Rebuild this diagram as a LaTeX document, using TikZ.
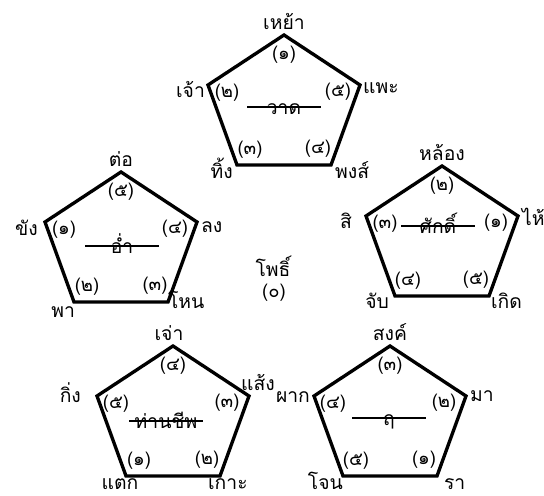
\documentclass[tikz,border=0pt]{standalone}
\usepackage{fontspec}
\newfontfamily\thaifont[Script=Thai]{Loma}
\usetikzlibrary{calc}
\tikzset{
  pentline/.style={line width=1.9pt,line join=miter},
  cornerword/.style={font=\thaifont\fontsize{11}{13}\selectfont,inner sep=1pt},
  cornernum/.style={font=\thaifont\fontsize{10.5}{12}\selectfont,inner sep=0pt},
  midword/.style={font=\thaifont\fontsize{11}{13}\selectfont,inner sep=0pt,minimum width=1.46cm},
  strikeline/.style={line width=0.7pt}
}
% pentagon: name, centre, numbers at top, upper left, lower left, lower right, upper right
\newcommand{\pentagon}[7]{%
  \coordinate (#1-c) at (#2);
  \coordinate (#1-1) at ($(#2)+(0,72)$);
  \coordinate (#1-2) at ($(#2)+(-76,22)$);
  \coordinate (#1-3) at ($(#2)+(-47,-58)$);
  \coordinate (#1-4) at ($(#2)+(47,-58)$);
  \coordinate (#1-5) at ($(#2)+(76,22)$);
  \draw[pentline] (#1-1) -- (#1-2) -- (#1-3) -- (#1-4) -- (#1-5) -- cycle;
  \node[cornernum] (#1-n1) at ($(#1-1)+(0,-20)$) {(#3)};
  \node[cornernum] (#1-n2) at ($(#1-2)+(19,-8)$) {(#4)};
  \node[cornernum] (#1-n3) at ($(#1-3)+(13,15)$) {(#5)};
  \node[cornernum] (#1-n4) at ($(#1-4)+(-13,16)$) {(#6)};
  \node[cornernum] (#1-n5) at ($(#1-5)+(-22,-7)$) {(#7)};
}
\begin{document}
\begin{tikzpicture}[x=0.02cm,y=0.02cm]
\useasboundingbox (0,0) rectangle (544,495);
\pentagon{top}{284,388}{๑}{๒}{๓}{๔}{๕}
\pentagon{lft}{121,251}{๕}{๑}{๒}{๓}{๔}
\pentagon{rgt}{442,257}{๒}{๓}{๔}{๕}{๑}
\pentagon{bl}{173,77}{๔}{๕}{๑}{๒}{๓}
\pentagon{br}{390,77}{๓}{๔}{๕}{๑}{๒}

% struck-out middle words
\coordinate (top-s) at (284,388);
\coordinate (lft-s) at (122,249);
\coordinate (rgt-s) at (438,269);
\coordinate (bl-s) at (166,74);
\coordinate (br-s) at (389,77);
\node[midword,anchor=base] (top-w) at ($(top-s)+(0,-7)$) {วาด};
\node[midword,anchor=base] (lft-w) at ($(lft-s)+(0,-7)$) {อ่ำ};
\node[midword,anchor=base] (rgt-w) at ($(rgt-s)+(0,-7)$) {ศักดิ์};
\node[midword,anchor=base] (bl-w) at ($(bl-s)+(0,-7)$) {ท่านชีพ};
\node[midword,anchor=base] (br-w) at ($(br-s)+(0,-7)$) {ฤ};
\foreach \p in {top,lft,rgt,bl,br}
  \draw[strikeline] (\p-w.west |- \p-s) -- (\p-w.east |- \p-s);

% top pentagon
\node[cornerword,anchor=south] (top-t1) at ($(top-1)+(0,3)$) {เหย้า};
\node[cornerword,anchor=east] (top-t2) at ($(top-2)+(-1,-4)$) {เจ้า};
\node[cornerword,anchor=base east] (top-t3) at ($(top-3)+(-2,-13)$) {ทิ้ง};
\node[cornerword,anchor=base west] (top-t4) at ($(top-4)+(2,-13)$) {พงส์};
\node[cornerword,anchor=west] (top-t5) at ($(top-5)+(1,-3)$) {แพะ};
% left pentagon
\node[cornerword,anchor=south] (lft-t1) at ($(lft-1)+(0,3)$) {ต่อ};
\node[cornerword,anchor=east] (lft-t2) at ($(lft-2)+(-5,-6)$) {ขัง};
\node[cornerword,anchor=base east] (lft-t3) at ($(lft-3)+(3,-15)$) {พา};
\node[cornerword,anchor=base west] (lft-t4) at ($(lft-4)+(-2,-6)$) {โหน};
\node[cornerword,anchor=west] (lft-t5) at ($(lft-5)+(2,-5)$) {ลง};
% right pentagon
\node[cornerword,anchor=south] (rgt-t1) at ($(rgt-1)+(0,3)$) {หล้อง};
\node[cornerword,anchor=east] (rgt-t2) at ($(rgt-2)+(-12,-5)$) {สิ};
\node[cornerword,anchor=base east] (rgt-t3) at ($(rgt-3)+(-4,-12)$) {จับ};
\node[cornerword,anchor=base west] (rgt-t4) at ($(rgt-4)+(0,-12)$) {เกิด};
\node[cornerword,anchor=west] (rgt-t5) at ($(rgt-5)+(2,-1)$) {ไห้};
% lower left pentagon
\node[cornerword,anchor=south] (bl-t1) at ($(bl-1)+(-4,3)$) {เจ่า};
\node[cornerword,anchor=east] (bl-t2) at ($(bl-2)+(-14,3)$) {กิ่ง};
\node[cornerword,anchor=base] (bl-t3) at ($(bl-3)+(-6,-13)$) {แตก};
\node[cornerword,anchor=base west] (bl-t4) at ($(bl-4)+(-14,-13)$) {เกาะ};
\node[cornerword,anchor=base west] (bl-t5) at ($(bl-5)+(-10,6)$) {แส้ง};
% lower right pentagon
\node[cornerword,anchor=south] (br-t1) at ($(br-1)+(0,3)$) {สงค์};
\node[cornerword,anchor=east] (br-t2) at ($(br-2)+(-2,-1)$) {ผาก};
\node[cornerword,anchor=base east] (br-t3) at ($(br-3)+(2,-13)$) {โจน};
\node[cornerword,anchor=base west] (br-t4) at ($(br-4)+(5,-13)$) {รา};
\node[cornerword,anchor=west] (br-t5) at ($(br-5)+(2,0)$) {มา};

% centre
\node[cornerword] (mid-word) at (273,229) {โพธิ์};
\node[cornernum] (mid-num) at (274,202) {(๐)};
\end{tikzpicture}
\end{document}
